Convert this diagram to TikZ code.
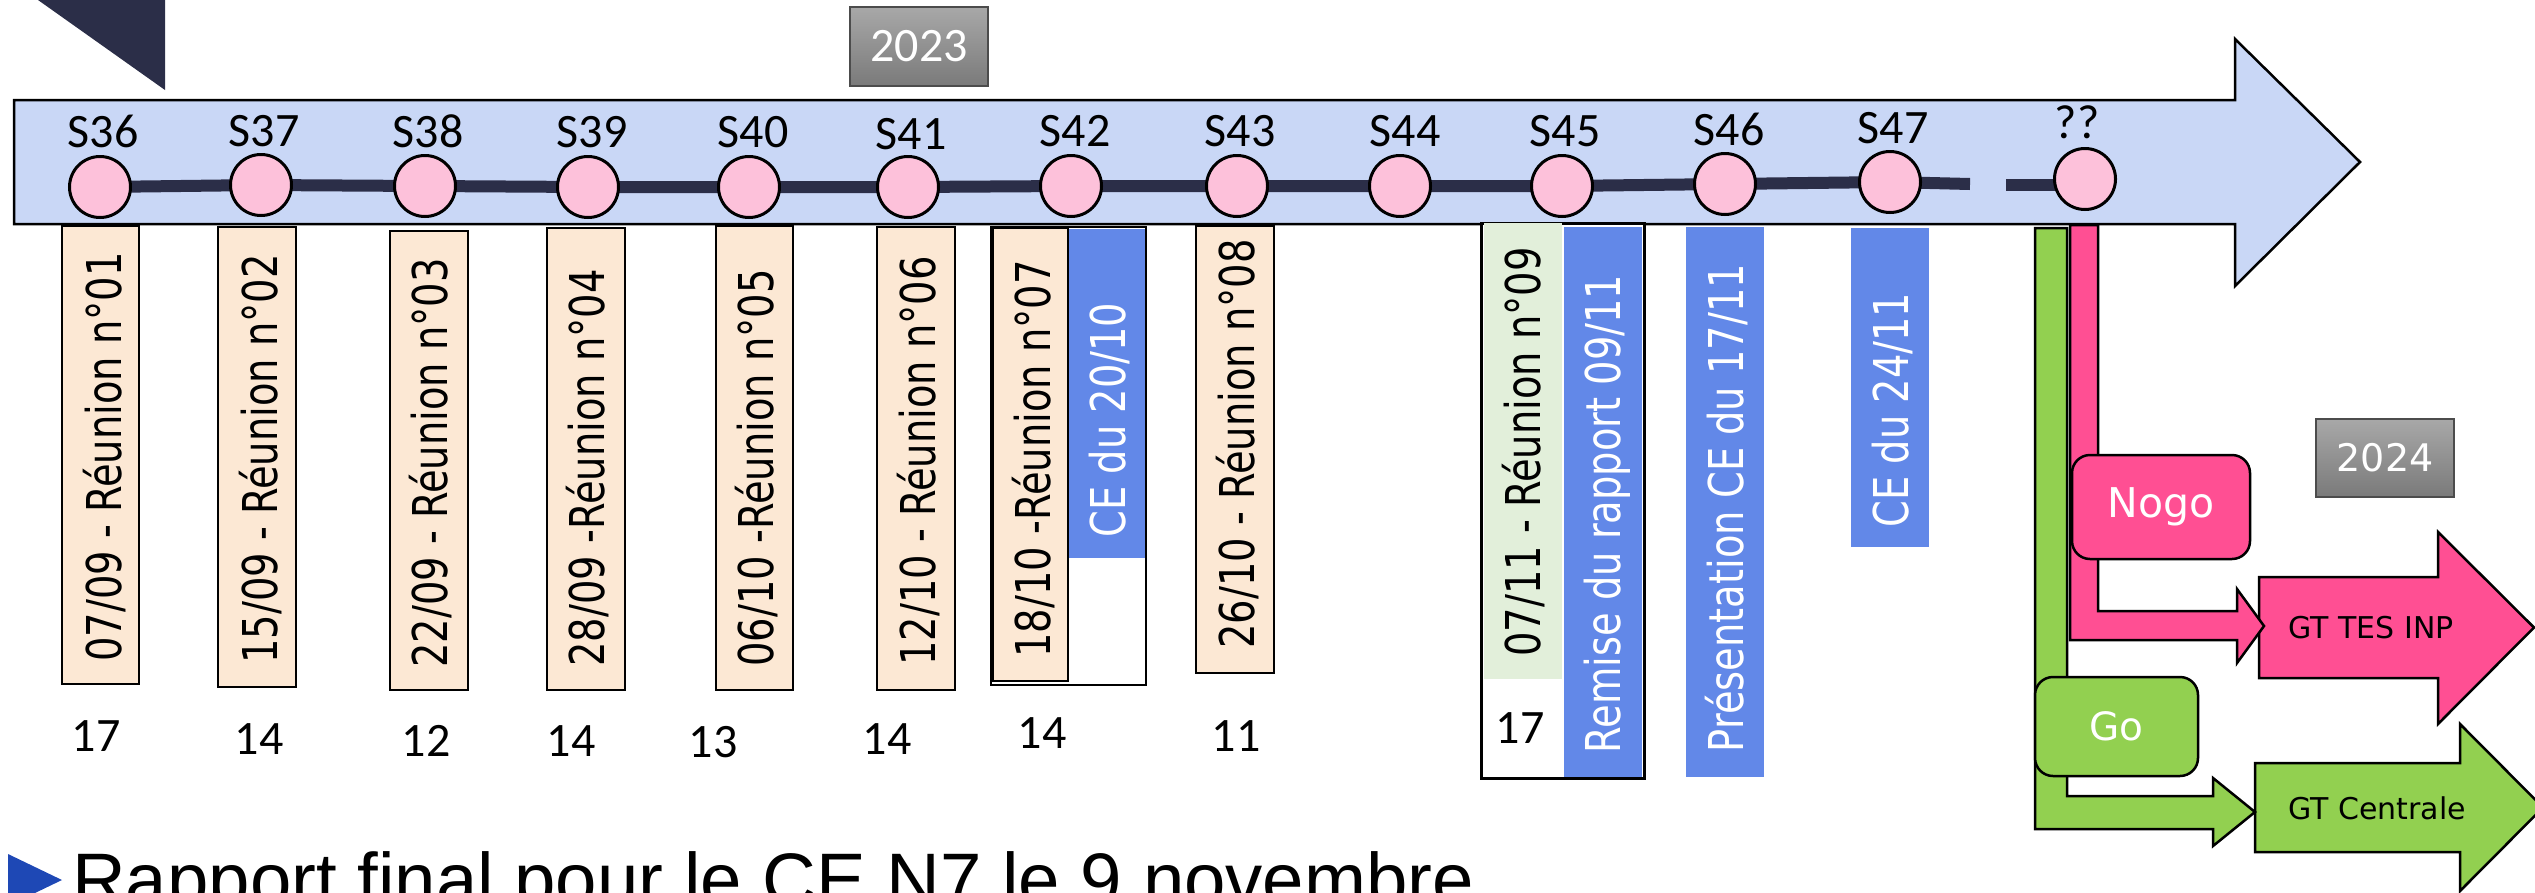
\documentclass[tikz,border=0pt]{standalone}
\usepackage{fontspec}
\usepackage{graphicx}
\setmainfont{Carlito}
\newfontfamily\calfont{Carlito}
\newfontfamily\dvfont{DejaVu Sans}
\newfontfamily\arfont{Liberation Sans}
\definecolor{tlblue}{HTML}{C9D7F6}
\definecolor{navy}{HTML}{2B2E48}
\definecolor{cpink}{HTML}{FDC1DA}
\definecolor{beige}{HTML}{FCE8D4}
\definecolor{lgreen}{HTML}{E2EFDA}
\definecolor{ceblue}{HTML}{6288E8}
\definecolor{hpink}{HTML}{FF4F93}
\definecolor{hgreen}{HTML}{92D050}
\definecolor{bulletblue}{HTML}{1E48B5}
\definecolor{ytop}{HTML}{A8A8A8}
\definecolor{ybot}{HTML}{7A7A7A}
\newcommand{\rtxt}[1]{\scalebox{0.8}[1]{\dvfont\fontsize{48}{58}\selectfont #1}}
\pgfdeclarelayer{back}
\pgfdeclarelayer{bg}
\pgfsetlayers{back,bg,main}
\begin{document}
\begin{tikzpicture}[x=1pt,y=-1pt,
  bord/.style={draw=black, line width=2.5pt, line join=miter},
  mbox/.style={draw=black, line width=2pt, inner sep=0pt},
  fbox/.style={draw=none, inner sep=0pt},
  wk/.style={circle, draw=black, line width=3pt, fill=cpink, minimum size=61pt, inner sep=0pt},
  tline/.style={draw=navy, line width=12pt},
  slab/.style={inner sep=0pt, font=\calfont\fontsize{48}{58}\selectfont},
  nlab/.style={inner sep=0pt, font=\calfont\fontsize{48}{58}\selectfont},
  vtxt/.style={inner sep=0pt, rotate=90, anchor=base},
  ybox/.style={draw=black!70, line width=1.5pt, top color=ytop, bottom color=ybot, inner sep=0pt, text=white},
  rbox/.style={draw=black, line width=2.5pt, rounded corners=18pt, inner sep=0pt, text=white, font=\dvfont\fontsize{41}{50}\selectfont},
  gtlab/.style={inner sep=0pt, text=black, font=\dvfont\fontsize{30}{36}\selectfont}
]
\useasboundingbox (0,0) rectangle (2535,892);

% top-left dark triangle
\fill[navy] (38,0) -- (165,0) -- (165,90) -- cycle;

% main timeline arrow
\begin{pgfonlayer}{back}
\draw[bord, fill=tlblue] (14,100) -- (2235,100) -- (2235,39) -- (2360,162) -- (2235,286) -- (2235,224) -- (14,224) -- cycle;
\end{pgfonlayer}

% year 2023
\node[ybox, minimum width=138pt, minimum height=79pt, font=\calfont\fontsize{48}{58}\selectfont] (y23) at (919,46.5) {2023};

% week circles
\node[wk] (c36) at (100,187) {};
\node[wk] (c37) at (261,185) {};
\node[wk] (c38) at (425,186) {};
\node[wk] (c39) at (588,187) {};
\node[wk] (c40) at (749,187) {};
\node[wk] (c41) at (908,187) {};
\node[wk] (c42) at (1071,186) {};
\node[wk] (c43) at (1237,186) {};
\node[wk] (c44) at (1400,186) {};
\node[wk] (c45) at (1562,186) {};
\node[wk] (c46) at (1725,184) {};
\node[wk] (c47) at (1890,182) {};
\node[wk] (cq) at (2085,179) {};
\coordinate (lend) at (1970,184);
\coordinate (lst) at (2006,185);

\begin{pgfonlayer}{bg}
\draw[tline] (c36.center) -- (c37.center) -- (c38.center) -- (c39.center) -- (c40.center) -- (c41.center) -- (c42.center) -- (c43.center) -- (c44.center) -- (c45.center) -- (c46.center) -- (c47.center) -- (lend);
\draw[tline] (lst) -- (cq.center |- lst);
\end{pgfonlayer}

% week labels
\node[slab] (l36) at (103,131) {S36};
\node[slab] (l37) at (264,131) {S37};
\node[slab] (l38) at (428,131) {S38};
\node[slab] (l39) at (592,132) {S39};
\node[slab] (l40) at (753,132) {S40};
\node[slab] (l41) at (911,134) {S41};
\node[slab] (l42) at (1075,131) {S42};
\node[slab] (l43) at (1240,131) {S43};
\node[slab] (l44) at (1405,131) {S44};
\node[slab] (l45) at (1565,131) {S45};
\node[slab] (l46) at (1729,129) {S46};
\node[slab] (l47) at (1893,128) {S47};
\node[slab] (lq) at (2077,122) {??};

% meeting boxes
\node[mbox, fill=beige, minimum width=77pt, minimum height=458pt] (b1) at (100.5,455) {};
\node[mbox, fill=beige, minimum width=78pt, minimum height=460pt] (b2) at (257,457) {};
\node[mbox, fill=beige, minimum width=78pt, minimum height=459pt] (b3) at (429,460.5) {};
\node[mbox, fill=beige, minimum width=78pt, minimum height=462pt] (b4) at (586,459) {};
\node[mbox, fill=beige, minimum width=77pt, minimum height=464pt] (b5) at (754.5,458) {};
\node[mbox, fill=beige, minimum width=78pt, minimum height=463pt] (b6) at (916,458.5) {};
\node[mbox, fill=white, line width=2.5pt, minimum width=155pt, minimum height=458pt] (o7) at (1068.5,456) {};
\node[mbox, fill=beige, minimum width=75pt, minimum height=453pt] (b7) at (1030.5,454.5) {};
\node[fbox, fill=ceblue, minimum width=76pt, minimum height=329pt] (ce20) at (1107,393.5) {};
\node[mbox, fill=beige, minimum width=78pt, minimum height=447pt] (b8) at (1235,449.5) {};
\node[mbox, fill=white, line width=3pt, minimum width=163pt, minimum height=555pt] (o9) at (1562.5,500.5) {};
\node[fbox, fill=lgreen, minimum width=78pt, minimum height=456pt] (g9) at (1523,451) {};
\node[fbox, fill=ceblue, minimum width=78pt, minimum height=550pt] (rem) at (1602.5,502) {};
\node[fbox, fill=ceblue, minimum width=78pt, minimum height=550pt] (pres) at (1725,502) {};
\node[fbox, fill=ceblue, minimum width=78pt, minimum height=319pt] (ce24) at (1890,387.5) {};

% box texts
\node[vtxt] (t1) at (121.5,457) {\rtxt{07/09 - Réunion n°01}};
\node[vtxt] (t2) at (277.5,459) {\rtxt{15/09 - Réunion n°02}};
\node[vtxt] (t3) at (447.5,463) {\rtxt{22/09 - Réunion n°03}};
\node[vtxt] (t4) at (604.5,468) {\rtxt{28/09 -Réunion n°04}};
\node[vtxt] (t5) at (773.5,468) {\rtxt{06/10 -Réunion n°05}};
\node[vtxt] (t6) at (935.5,461) {\rtxt{12/10 - Réunion n°06}};
\node[vtxt] (t7) at (1050,459) {\rtxt{18/10 -Réunion n°07}};
\node[vtxt, text=white] (t20) at (1125.5,420) {\rtxt{CE du 20/10}};
\node[vtxt] (t8) at (1254.5,444) {\rtxt{26/10 - Réunion n°08}};
\node[vtxt] (t9) at (1540.5,452) {\rtxt{07/11 - Réunion n°09}};
\node[vtxt, text=white] (trem) at (1620,514) {\rtxt{Remise du rapport 09/11}};
\node[vtxt, text=white] (tpres) at (1743.5,508) {\rtxt{Présentation CE du 17/11}};
\node[vtxt, text=white] (t24) at (1908.5,410) {\rtxt{CE du 24/11}};

% attendance numbers
\node[nlab] (n1) at (96,736) {17};
\node[nlab] (n2) at (259,739) {14};
\node[nlab] (n3) at (426,741) {12};
\node[nlab] (n4) at (571,741) {14};
\node[nlab] (n5) at (713,742) {13};
\node[nlab] (n6) at (887,739) {14};
\node[nlab] (n7) at (1042,733) {14};
\node[nlab] (n8) at (1236,736) {11};
\node[nlab] (n9) at (1520,728) {17};

% outcome arrows
\draw[bord, fill=hpink] (2259,577) -- (2438,577) -- (2438,532) -- (2534,627.5) -- (2438,724) -- (2438,678) -- (2259,678) -- cycle;
\node[gtlab] (gtes) at (2371,628) {GT TES INP};
\draw[bord, fill=hgreen] (2255,763) -- (2460,763) -- (2460,724) -- (2543,807.5) -- (2460,891) -- (2460,852) -- (2255,852) -- cycle;
\node[gtlab] (gcen) at (2377,808) {GT Centrale};

\draw[bord, fill=hgreen] (2035,228) -- (2067,228) -- (2067,796) -- (2213,796) -- (2213,778) -- (2255,812) -- (2213,846) -- (2213,829) -- (2035,829) -- cycle;
\draw[bord, fill=hpink] (2070,225) -- (2098,225) -- (2098,611) -- (2237,611) -- (2237,589) -- (2264,626) -- (2237,663) -- (2237,640) -- (2070,640) -- cycle;

\node[rbox, fill=hpink, minimum width=178pt, minimum height=104pt] (nogo) at (2161,507) {Nogo};
\node[rbox, fill=hgreen, minimum width=163pt, minimum height=99pt, font=\dvfont\fontsize{39}{48}\selectfont] (go) at (2116.5,726.5) {Go};

% year 2024
\node[ybox, minimum width=138pt, minimum height=78pt, font=\dvfont\fontsize{38}{46}\selectfont] (y24) at (2385,458) {2024};

% bottom bullet line
\fill[bulletblue] (8,854) -- (62,880) -- (8,906) -- cycle;
\node[anchor=base west, inner sep=0pt, font=\arfont\fontsize{74.4}{90}\selectfont] (rap) at (72,905) {Rapport final pour le CE N7 le 9 novembre};
\end{tikzpicture}
\end{document}
